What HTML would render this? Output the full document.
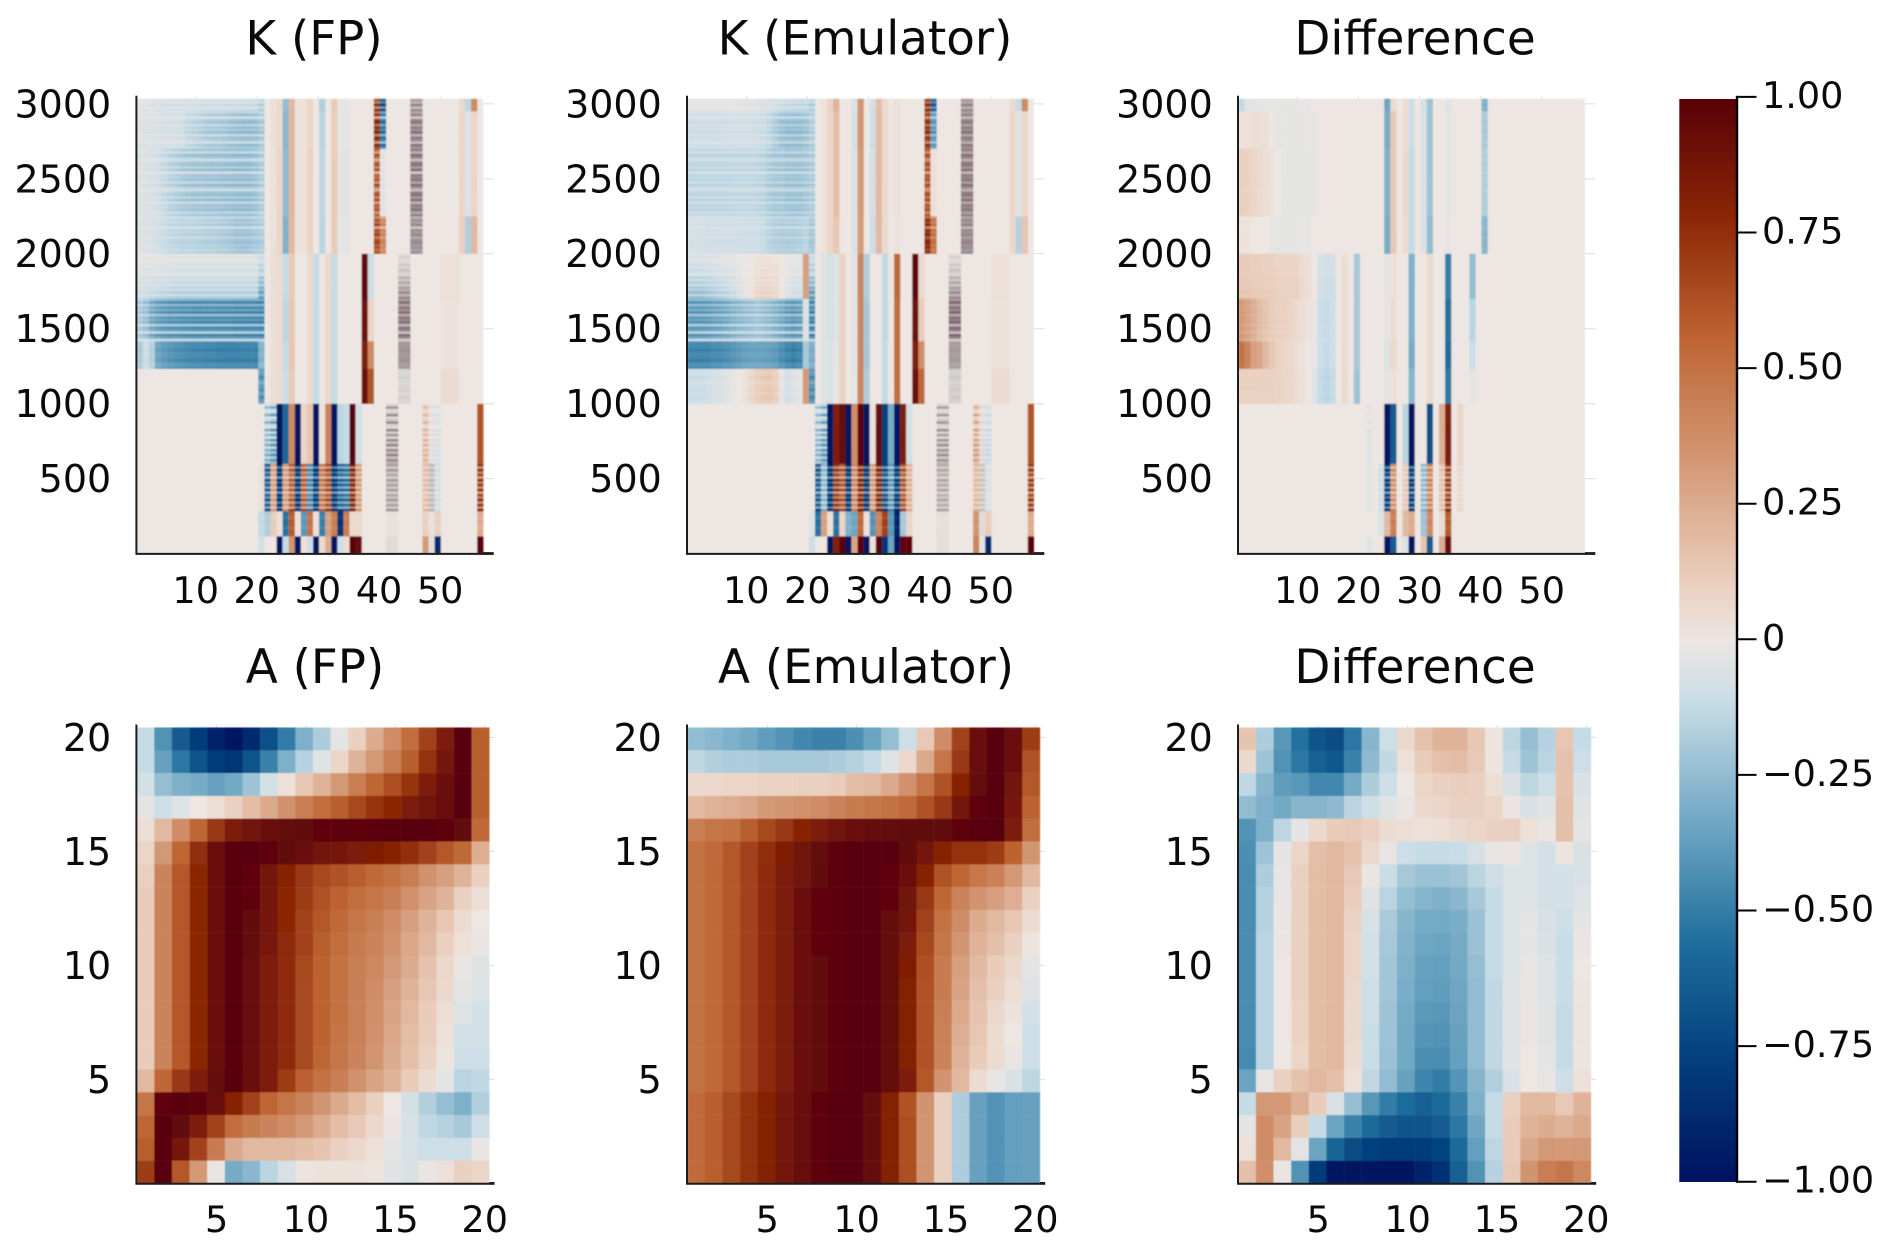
<!DOCTYPE html>
<html lang="en">
<head>
<meta charset="utf-8">
<title>K and A heatmaps</title>
<style>
html,body{margin:0;padding:0;background:#fff;}
svg{display:block;}
text{font-family:"DejaVu Sans","Liberation Sans",sans-serif;fill:#0a0a0a;}
.title{font-size:46.8px;text-anchor:middle;}
.tick{font-size:36.6px;}
.ytick{font-size:38px;}
</style>
</head>
<body>
<svg id="figure" xmlns="http://www.w3.org/2000/svg" width="1892" height="1252" viewBox="0 0 1892 1252">
  <defs>
    <filter id="soft"><feGaussianBlur stdDeviation="0.75"/></filter>
    <filter id="softer"><feGaussianBlur stdDeviation="0.45"/></filter>
    <linearGradient id="cbarGrad" x1="0" y1="0" x2="0" y2="1"></linearGradient>
  </defs>
  <rect x="0" y="0" width="1892" height="1252" fill="#ffffff"/>
  <text class="title" x="314" y="54.4">K (FP)</text>
  <text class="title" x="865" y="54.4">K (Emulator)</text>
  <text class="title" x="1415" y="54.4">Difference</text>
  <text class="title" x="315" y="683">A (FP)</text>
  <text class="title" x="866" y="683">A (Emulator)</text>
  <text class="title" x="1415" y="683">Difference</text>
  <g id="plots"></g>
  <rect x="1679.3" y="99" width="57" height="1083" fill="url(#cbarGrad)"/>
  <g id="cbar"></g>
</svg>
<script>
/* ---------- colour scale ---------- */
const scaleValues = [-1,-0.778,-0.556,-0.333,-0.111,0,0.111,0.333,0.556,0.778,1];
const scaleColors = ["#001261","#033E7D","#1E6F9D","#71A8C4","#C9DDE7","#EDE6E2","#EACEBD","#D39774","#BE6533","#8B2706","#590008"];

/* ---------- A panels: rows run y=20 (top) to y=1 (bottom), 20 columns ---------- */
const aFpValues = [
[-.12,-.42,-.65,-.8,-.92,-1,-.88,-.7,-.5,-.3,-.18,-.03,.1,.25,.38,.52,.68,.85,1,.58],
[-.12,-.36,-.52,-.68,-.78,-.82,-.68,-.48,-.3,-.16,-.04,.08,.22,.33,.45,.58,.74,.87,1,.58],
[-.08,-.24,-.3,-.32,-.36,-.33,-.22,-.08,.03,.14,.22,.33,.45,.55,.63,.73,.84,.92,1,.58],
[-.03,-.1,-.05,0,.04,.1,.18,.26,.36,.45,.52,.58,.66,.73,.78,.85,.9,.93,1,.58],
[.04,.2,.38,.55,.72,.85,.9,.93,.95,.96,.97,.98,.98,.99,1,1,1,.98,.96,.54],
[.08,.33,.55,.75,.92,1,1,.98,.96,.93,.9,.88,.85,.83,.8,.75,.68,.6,.54,.24],
[.1,.42,.6,.78,.92,1,.97,.88,.8,.72,.66,.62,.58,.54,.5,.45,.36,.3,.22,.1],
[.12,.42,.6,.78,.92,1,.97,.88,.78,.7,.62,.56,.52,.48,.44,.36,.28,.22,.1,.04],
[.12,.42,.6,.78,.92,1,.96,.87,.78,.68,.6,.54,.48,.44,.38,.3,.22,.14,.05,0],
[.12,.42,.6,.78,.92,1,.95,.86,.77,.68,.58,.52,.46,.42,.36,.27,.2,.1,.03,-.01],
[.12,.42,.6,.78,.92,1,.94,.85,.76,.66,.56,.5,.44,.4,.33,.25,.16,.07,-.01,-.04],
[.12,.42,.6,.78,.92,1,.94,.85,.76,.65,.56,.5,.44,.38,.3,.22,.14,.06,-.03,-.05],
[.12,.42,.6,.78,.92,1,.94,.85,.76,.65,.56,.5,.43,.37,.28,.2,.12,.04,-.05,-.08],
[.12,.42,.6,.78,.92,1,.94,.85,.76,.65,.56,.49,.43,.36,.27,.18,.11,.03,-.08,-.08],
[.12,.42,.6,.78,.92,1,.94,.85,.76,.65,.55,.48,.42,.34,.25,.17,.09,.01,-.1,-.1],
[.2,.55,.72,.85,.95,1,.92,.85,.7,.57,.5,.44,.36,.28,.22,.12,.05,-.03,-.15,-.13],
[.48,.97,1,.98,.92,.8,.68,.55,.48,.42,.34,.26,.18,.1,0,-.08,-.17,-.24,-.3,-.17],
[.55,1,.96,.85,.68,.52,.46,.42,.38,.33,.25,.18,.13,.07,-.01,-.07,-.13,-.16,-.2,-.1],
[.58,1,.87,.68,.46,.26,.2,.2,.2,.18,.15,.1,.07,.03,-.03,-.07,-.1,-.1,-.1,-.01],
[.7,1,.6,.33,-.01,-.32,-.27,-.15,-.07,.01,.02,.02,.02,.01,-.04,-.06,-.01,.03,.1,.08]
];
const aEmulatorValues = [
[-.25,-.27,-.3,-.33,-.38,-.42,-.46,-.48,-.48,-.43,-.35,-.24,-.1,.13,.38,.68,.92,1,.92,.7],
[-.14,-.17,-.18,-.18,-.2,-.2,-.2,-.2,-.18,-.16,-.12,-.04,.07,.26,.48,.72,.92,1,.92,.62],
[.06,.07,.08,.08,.09,.09,.1,.1,.12,.18,.2,.26,.36,.48,.62,.8,.95,1,.9,.6],
[.2,.22,.24,.27,.32,.34,.36,.38,.42,.46,.48,.5,.53,.62,.72,.88,.97,1,.87,.56],
[.45,.48,.5,.58,.66,.72,.8,.85,.9,.93,.95,.95,.96,.96,.96,.98,1,1,.85,.52],
[.5,.53,.6,.68,.75,.83,.9,.95,.98,1,1,1,.96,.88,.8,.74,.74,.7,.56,.34],
[.5,.54,.6,.68,.76,.84,.9,.96,.98,1,1,.97,.92,.8,.62,.55,.47,.43,.33,.2],
[.5,.54,.6,.68,.77,.85,.92,.97,.99,1,1,.97,.9,.72,.55,.42,.35,.3,.24,.1],
[.5,.54,.6,.68,.77,.85,.92,.97,.99,1,1,.95,.88,.68,.5,.38,.25,.2,.14,.05],
[.5,.54,.6,.68,.77,.85,.92,.97,.99,1,1,.95,.85,.66,.48,.34,.22,.17,.1,.01],
[.5,.54,.6,.68,.77,.85,.92,.96,.99,1,1,.95,.83,.63,.46,.3,.19,.12,.07,-.03],
[.5,.54,.6,.68,.77,.85,.92,.96,.99,1,1,.95,.82,.62,.46,.28,.17,.1,.04,-.05],
[.5,.54,.6,.68,.77,.85,.92,.96,.99,1,1,.95,.82,.62,.44,.26,.15,.07,.02,-.08],
[.5,.54,.6,.68,.77,.85,.92,.96,.99,1,1,.95,.82,.62,.43,.24,.14,.05,0,-.1],
[.5,.54,.6,.68,.77,.85,.92,.96,.99,1,1,.95,.82,.62,.42,.22,.12,.05,-.02,-.1],
[.5,.54,.6,.68,.77,.85,.92,.96,.99,1,1,.95,.85,.6,.35,.2,.05,-.02,-.06,-.14],
[.53,.58,.66,.74,.82,.88,.93,.98,1,1,.95,.82,.62,.35,.1,-.18,-.36,-.42,-.37,-.36],
[.53,.58,.66,.74,.82,.88,.94,.98,1,1,.95,.82,.63,.34,.1,-.18,-.36,-.42,-.37,-.36],
[.53,.58,.66,.74,.82,.88,.94,.98,1,1,.95,.82,.63,.34,.1,-.18,-.36,-.42,-.37,-.36],
[.53,.58,.66,.74,.82,.88,.94,.98,1,1,.95,.82,.63,.34,.1,-.18,-.36,-.42,-.37,-.36]
];
const aDifferenceValues = [
[.15,-.18,-.4,-.55,-.68,-.72,-.52,-.28,-.1,.07,.16,.22,.22,.14,.01,-.14,-.24,-.16,.14,-.12],
[.06,-.22,-.42,-.52,-.62,-.66,-.48,-.26,-.13,.03,.12,.17,.18,.13,.01,-.12,-.22,-.15,.16,-.1],
[-.13,-.28,-.38,-.4,-.46,-.46,-.32,-.18,-.1,0,.08,.1,.11,.1,.04,-.06,-.14,-.1,.16,-.06],
[-.25,-.3,-.33,-.28,-.28,-.26,-.15,-.09,-.04,-.01,.06,.08,.1,.1,.08,-.01,-.06,-.04,.17,-.04],
[-.42,-.3,-.14,-.03,.06,.12,.13,.1,.05,.04,.03,.04,.06,.08,.1,.1,.03,-.01,.17,-.03],
[-.43,-.22,-.03,.08,.17,.2,.16,.07,-.02,-.1,-.12,-.12,-.11,-.07,-.02,-.01,-.05,-.08,.01,-.06],
[-.44,-.18,-.02,.1,.18,.2,.13,-.01,-.11,-.2,-.23,-.23,-.21,-.15,-.1,-.05,-.05,-.08,-.08,-.06],
[-.44,-.16,-.02,.1,.18,.2,.11,-.04,-.15,-.24,-.28,-.3,-.27,-.2,-.12,-.05,-.05,-.08,-.08,-.05],
[-.44,-.16,-.01,.1,.18,.2,.09,-.07,-.19,-.28,-.32,-.33,-.31,-.23,-.12,-.05,-.03,-.07,-.1,-.03],
[-.44,-.15,-.01,.1,.18,.2,.08,-.08,-.2,-.29,-.34,-.35,-.32,-.23,-.12,-.05,-.03,-.06,-.11,-.01],
[-.44,-.15,0,.1,.18,.2,.08,-.08,-.21,-.3,-.36,-.37,-.33,-.24,-.12,-.05,-.02,-.05,-.11,0],
[-.44,-.15,0,.1,.18,.2,.07,-.1,-.21,-.31,-.37,-.38,-.34,-.25,-.13,-.04,-.02,-.05,-.11,.01],
[-.44,-.15,0,.09,.18,.2,.06,-.1,-.22,-.32,-.39,-.4,-.35,-.25,-.13,-.04,-.01,-.04,-.12,.01],
[-.44,-.15,0,.09,.18,.2,.06,-.11,-.22,-.33,-.41,-.42,-.36,-.25,-.13,-.04,-.01,-.04,-.12,.01],
[-.45,-.15,0,.08,.18,.2,.05,-.11,-.23,-.33,-.43,-.44,-.37,-.25,-.13,-.04,0,-.03,-.12,.01],
[-.35,-.02,.1,.16,.2,.17,.03,-.13,-.25,-.36,-.47,-.5,-.41,-.28,-.17,-.06,0,-.02,-.1,.03],
[-.12,.33,.33,.24,.12,-.06,-.24,-.4,-.5,-.57,-.62,-.58,-.48,-.3,-.12,.1,.2,.2,.13,.22],
[-.03,.38,.28,.11,-.12,-.35,-.48,-.58,-.65,-.68,-.68,-.64,-.52,-.34,-.12,.12,.22,.25,.22,.26],
[.03,.38,.2,-.03,-.35,-.6,-.72,-.77,-.8,-.8,-.8,-.75,-.58,-.37,-.14,.12,.27,.33,.32,.33],
[.17,.37,-.01,-.42,-.8,-1,-1,-1,-1,-1,-.92,-.85,-.62,-.42,-.16,.13,.35,.45,.48,.4]
];

/* ---------- K panels: each row is a y-range group, 57 columns, values in hundredths ---------- */
const kGroupRowCounts = [5,15,27,15, 18,17,11,14, 24,19,10,7];
const stripesTop = [.7,.5,1,.4,.9, .6,1,.3,.9,1.1,.6,1,.8,1.2,.5,1,.9,.4,1.1,.8,
 1,.5,1.2,.9,.4,1,1.1,.7,1.2,.3,1,.9,1.1,.6,1.2,.8,.4,1,1.1,.7,1.2,.5,1,.9,1.1,.6,1,
 .6,1,.8,1.1,.4,1,.9,1.1,.7,1,1.1,.9,1,.8,1];
const stripesMiddle = [.2,.4,.2,.3,.5,.3,.6,.4,.3,.8,.5,.9,.5,1,.8,1.3,.7,1.3,
 .8,1.3,.7,1.2,.9,1.3,.6,1.2,1,1.3,.5,1.2,1.1,.4,1.3,1,.3,
 1,1,1,1.1,1,1,1,1.1,1,.9,1,
 1,.9,1,1.2,1,.8,1,1,1.2,.9,1,1.2,1,.9];
const stripesLower = [.3,.9,.2,.3,1,.2,.4,1,.3,.2,1.1,.3,.9,.2,1,.4,1.1,.3,1,.5,1.1,.4,1,.6,
 1.1,.5,1.2,.6,1,.4,1.2,.6,1.1,.5,1.2,.4,1,.6,1.2,.5,1.1,.5,1.3,
 1,1,.9,1,1,1,.9,1,1,1,
 1,1,1,1,1,1,1];

const kFpValues = [
[-5,-6,-7,-8,-9,-10,-10,-10,-10,-11,  -11,-12,-12,-12,-12,-13,-13,-13,-14,-14,  -20,0,3,6,-25,20,2,2,8,0,  -18,0,12,-2,-2,0,0,0,0,92,  -90,0,0,0,0,50,50,0,0,0,  0,0,0,6,-14,40,0],
[-5,-6,-6,-7,-8,-8,-9,-10,-13,-15,  -17,-19,-20,-20,-21,-23,-24,-25,-25,-24,  -20,0,3,6,-28,22,2,2,8,0,  -15,0,12,-3,-3,0,0,0,0,82,  -55,0,0,0,0,50,50,0,0,0,  0,0,0,8,-5,8,0],
[-5,-6,-7,-9,-12,-15,-17,-19,-20,-21,  -21,-22,-22,-22,-23,-23,-24,-24,-24,-22,  -18,0,3,8,-26,22,2,2,9,0,  -14,0,12,-3,-4,0,0,0,0,58,  -4,0,0,0,0,50,50,0,0,0,  0,0,0,8,-5,8,0],
[-5,-6,-7,-9,-11,-13,-14,-15,-15,-15,  -16,-17,-17,-18,-19,-20,-22,-22,-22,-20,  -18,0,3,8,-30,20,2,2,9,0,  -15,0,12,-3,-3,0,0,0,0,65,  42,0,0,0,0,42,42,0,0,0,  0,0,0,10,-18,20,0],
[-8,-9,-10,-11,-12,-13,-14,-14,-14,-14,  -14,-14,-14,-14,-14,-14,-14,-14,-14,-14,  -30,0,4,5,-12,13,1,1,6,-12,  0,7,-12,0,0,0,0,97,-10,0,  0,0,0,35,35,0,0,0,0,0,  3,3,3,0,0,0,0],
[-16,-20,-28,-32,-34,-36,-36,-37,-37,-38,  -38,-38,-38,-38,-38,-38,-39,-39,-39,-39,  -40,0,4,5,-14,14,1,1,6,-12,  0,7,-12,0,0,0,0,92,8,0,  0,0,0,45,45,0,0,0,0,0,  2,2,2,0,0,0,0],
[-18,-10,-16,-34,-38,-40,-42,-43,-44,-45,  -45,-46,-46,-47,-47,-47,-47,-47,-47,-47,  -28,0,4,5,-12,15,1,1,6,-12,  0,7,-12,0,0,0,0,85,40,0,  0,0,0,38,38,0,0,0,0,0,  2,2,2,0,0,0,0],
[0,0,0,0,0,0,0,0,0,0,  0,0,0,0,0,0,0,0,0,0,  -38,0,4,5,-10,13,1,1,6,-12,  0,7,-12,0,0,0,0,93,62,0,  0,0,0,12,12,0,0,0,0,0,  5,5,5,0,0,0,0],
[0,0,0,0,0,0,0,0,0,0,  0,0,0,0,0,0,0,0,0,0,  0,-30,-40,-100,-60,40,-100,8,15,-100,  2,42,-100,-15,-12,100,-8,0,0,0,  0,45,45,0,0,0,0,22,6,-8,  0,0,0,0,0,0,62],
[0,0,0,0,0,0,0,0,0,0,  0,0,0,0,0,0,0,0,0,0,  3,-65,28,-95,30,55,-90,55,-45,-90,  45,62,-90,-60,-55,85,30,0,0,0,  0,32,32,0,0,0,0,16,22,-8,  0,0,0,0,0,0,70],
[0,0,0,0,0,0,0,0,0,0,  0,0,0,0,0,0,0,0,0,0,  -12,-18,12,3,-55,60,3,-40,50,3,  -50,30,45,-85,45,6,6,0,0,0,  0,4,4,0,0,0,0,10,3,10,  0,0,0,0,0,0,25],
[0,0,0,0,0,0,0,0,0,0,  0,0,0,0,0,0,0,0,0,0,  -8,0,0,-100,-12,35,-100,2,-10,-100,  5,25,-100,-10,5,100,95,0,0,0,  0,8,8,0,0,0,0,32,5,-88,  0,0,0,0,0,0,100]
];
const kEmulatorValues = [
[-3,-3,-3,-3,-3,-3,-3,-3,-4,-5,  -5,-6,-7,-8,-10,-12,-14,-15,-15,-15,  -20,0,2,10,22,0,0,-6,35,0,  -8,18,6,0,3,0,0,0,0,90,  -75,0,0,0,0,50,50,0,0,0,  0,0,0,6,-12,40,0],
[-10,-10,-10,-10,-10,-10,-9,-9,-9,-9,  -9,-10,-11,-14,-19,-23,-25,-25,-25,-23,  -18,0,2,8,18,0,0,-8,35,0,  -10,20,6,0,3,0,0,0,0,75,  -40,0,0,0,0,50,50,0,0,0,  0,0,0,8,-4,8,0],
[-14,-14,-14,-14,-14,-14,-14,-13,-13,-13,  -13,-14,-15,-18,-20,-20,-22,-22,-22,-20,  -18,0,2,8,18,0,0,-6,33,0,  -8,20,6,0,3,0,0,0,0,60,  3,0,0,0,0,50,50,0,0,0,  0,0,0,8,-4,8,0],
[-8,-8,-8,-9,-9,-9,-9,-9,-9,-10,  -10,-10,-12,-15,-17,-18,-18,-18,-17,-15,  -20,0,2,8,14,0,0,-6,32,0,  -10,20,6,0,2,0,0,0,0,78,  50,0,0,0,0,45,45,0,0,0,  0,0,0,8,-16,15,0],
[-20,-20,-20,-18,-16,-14,-12,-10,-6,-3,  2,6,8,8,6,0,-5,-8,-8,30,  -32,0,-5,-7,-4,10,0,-4,42,-18,  0,0,-13,0,55,0,0,98,6,0,  0,0,0,35,35,0,0,0,0,0,  3,3,3,0,0,0,0],
[-34,-34,-34,-33,-31,-30,-28,-25,-23,-21,  -20,-18,-20,-22,-25,-28,-32,-34,-32,-5,  -40,0,-5,-7,-4,10,0,-4,42,-20,  0,0,-13,0,52,0,0,92,12,0,  0,0,0,48,48,0,0,0,0,0,  2,2,2,0,0,0,0],
[-46,-46,-46,-46,-44,-44,-42,-40,-38,-36,  -35,-35,-35,-36,-38,-42,-46,-48,-46,-20,  -30,0,-5,-6,-3,10,0,-4,42,-20,  0,0,-12,0,52,0,0,85,38,0,  0,0,0,35,35,0,0,0,0,0,  2,2,2,0,0,0,0],
[-10,-10,-10,-8,-7,-6,-4,-2,0,2,  6,10,12,13,10,-2,-8,-5,-3,33,  -40,0,-5,-6,-2,10,0,-3,42,-18,  0,0,-12,0,52,0,0,92,55,0,  0,0,0,14,14,0,0,0,0,0,  5,5,5,0,0,0,0],
[0,0,0,0,0,0,0,0,0,0,  0,0,0,0,0,0,0,0,0,0,  0,-28,-40,-100,85,95,-100,38,100,-100,  2,95,-78,-32,-100,85,-8,0,0,0,  0,40,40,0,0,0,0,30,10,-12,  0,0,0,0,0,0,62],
[0,0,0,0,0,0,0,0,0,0,  0,0,0,0,0,0,0,0,0,0,  0,-65,-25,-95,72,58,-92,38,85,-90,  30,85,-72,-38,-90,60,22,0,0,0,  0,28,28,0,0,0,0,18,18,-6,  0,0,0,0,0,0,68],
[0,0,0,0,0,0,0,0,0,0,  0,0,0,0,0,0,0,0,0,0,  -5,-55,30,3,-55,8,-30,-35,55,3,  -42,42,70,-40,-92,-20,8,0,0,0,  0,5,5,0,0,0,0,35,-8,12,  0,0,0,0,0,0,25],
[0,0,0,0,0,0,0,0,0,0,  0,0,0,0,0,0,0,0,0,0,  -10,0,0,-100,82,100,-100,28,100,-100,  2,100,-82,-35,-100,97,97,0,0,0,  0,5,5,0,0,0,0,42,3,-88,  0,0,0,0,0,0,100]
];
const kDifferenceValues = [
[-14,-4,-3,-3,-3,-3,-3,-3,-3,-3,  -2,-2,-1,-1,0,0,0,0,0,0,  0,0,0,0,-35,6,0,4,-10,0,  -8,-22,0,0,-4,0,0,0,0,0,  -32,0,0,0,0,0,0,0,0,0,  0,0,0,0,0,0,0],
[3,3,4,4,3,0,-2,-3,-3,-3,  -3,-2,-2,-1,-1,0,0,0,0,0,  0,0,0,0,-32,14,0,5,-10,0,  -6,-22,0,0,-3,0,0,0,0,0,  -20,0,0,0,0,0,0,0,0,0,  0,0,0,0,0,0,0],
[11,10,8,6,4,2,0,-2,-3,-3,  -3,-3,-2,-1,-1,0,0,1,1,0,  0,0,0,0,-30,14,0,6,-12,0,  -6,-22,0,0,-3,0,0,0,0,0,  -18,0,0,0,0,0,0,0,0,0,  0,0,0,0,0,0,0],
[2,2,1,0,-1,-2,-3,-3,-3,-3,  -2,-2,-1,0,0,0,0,0,0,0,  0,0,0,0,-32,14,0,5,-12,0,  -6,-25,0,0,-2,0,0,0,0,0,  -28,0,0,0,0,0,0,0,0,0,  0,0,0,0,0,0,0],
[14,14,13,13,12,12,10,10,10,10,  6,4,0,-8,-10,-10,0,5,0,-20,  0,0,0,0,-3,3,0,0,-30,0,  0,6,0,0,-50,0,0,0,-25,0,  0,0,0,0,0,0,0,0,0,0,  0,0,0,0,0,0,0],
[32,28,24,18,15,12,10,10,8,6,  4,2,-2,-10,-12,-10,0,5,0,-20,  0,0,0,0,-3,5,0,0,-30,0,  0,6,0,0,-55,0,0,0,-15,0,  0,0,0,0,0,0,0,0,0,0,  0,0,0,0,0,0,0],
[50,42,30,28,20,14,10,8,6,4,  2,0,-2,-10,-12,-10,0,5,0,-20,  0,0,0,0,-5,7,0,0,-32,0,  0,6,0,0,-58,0,0,0,-10,0,  0,0,0,0,0,0,0,0,0,0,  0,0,0,0,0,0,0],
[10,10,10,10,10,10,9,8,7,5,  3,0,-4,-12,-14,-12,0,6,0,-22,  0,0,0,0,-3,3,0,0,-28,0,  0,6,0,0,-52,0,0,0,-3,0,  0,0,0,0,0,0,0,0,0,0,  0,0,0,0,0,0,0],
[0,0,0,0,0,0,0,0,0,0,  0,0,0,0,0,0,0,0,0,0,  0,-5,0,0,-100,-65,0,-15,-100,0,  0,-72,0,25,85,0,8,0,0,0,  0,0,0,0,0,0,0,0,0,0,  0,0,0,0,0,0,0],
[0,0,0,0,0,0,0,0,0,0,  0,0,0,0,0,0,0,0,0,0,  0,-3,0,-8,-85,35,0,12,-85,0,  -25,40,0,15,70,0,6,0,0,0,  0,0,0,0,0,0,0,0,0,0,  0,0,0,0,0,0,0],
[0,0,0,0,0,0,0,0,0,0,  0,0,0,0,0,0,0,0,0,0,  0,0,0,-5,20,45,0,20,25,0,  -22,40,0,5,60,0,0,0,0,0,  0,0,0,0,0,0,0,0,0,0,  0,0,0,0,0,0,0],
[0,0,0,0,0,0,0,0,0,0,  0,0,0,0,0,0,0,0,0,0,  0,-4,0,0,-100,-65,0,-5,-100,0,  15,-65,0,25,92,0,0,0,0,0,  0,0,0,0,0,0,0,0,0,0,  0,0,0,0,0,0,0]
];
/* columns that do not follow the row streaks, and columns that flip sign within a row */
const solidTop = [22,23,24,25,26,27,28,29,30,31,32,33,34,53,54,55];
const solidMiddle = [22,23,24,25,26,27,28,29,30,31,32,33,34,35,36,37,38,50,51,52];
const solidLower = [23,24,25,26,27,28,29,30,31,32,33,34,35,36,56];
const solidExtraFp = [];
const solidExtraEmulator = [19];
const solidExtraDifference = [19];
const alternatingTop = [45,46];
const alternatingMiddle = [43,44];
const alternatingLower = [41,42,48];
const stripeDepthFp = [1,1,1];
const stripeDepthEmulator = [.8,1,1];
const stripeDepthDifference = [.2,.2,1];

/* ---------- tick labels ---------- */
const kXTicks = [10,20,30,40,50];
const kYTicks = [500,1000,1500,2000,2500,3000];
const aXTicks = [5,10,15,20];
const aYTicks = [5,10,15,20];
const colorbarTicks = [1,0.75,0.5,0.25,0,-0.25,-0.5,-0.75,-1];
const colorbarLabels = ["1.00","0.75","0.50","0.25","0","\u22120.25","\u22120.50","\u22120.75","\u22121.00"];

/* ---------- helpers ---------- */
const NS = "http://www.w3.org/2000/svg";
function mk(tag, attrs, parent){
  const e = document.createElementNS(NS, tag);
  for (const k in attrs) e.setAttribute(k, attrs[k]);
  parent.appendChild(e);
  return e;
}
const scaleRgb = scaleColors.map(h => [parseInt(h.slice(1,3),16),parseInt(h.slice(3,5),16),parseInt(h.slice(5,7),16)]);
function colorOf(v){
  const x = Math.max(-1, Math.min(1, v));
  let i = 0;
  while (i < scaleValues.length-2 && x > scaleValues[i+1]) i++;
  const t = (x-scaleValues[i])/(scaleValues[i+1]-scaleValues[i]);
  const a = scaleRgb[i], b = scaleRgb[i+1];
  return "rgb("+Math.round(a[0]+(b[0]-a[0])*t)+","+Math.round(a[1]+(b[1]-a[1])*t)+","+Math.round(a[2]+(b[2]-a[2])*t)+")";
}
const plots = document.getElementById("plots");

/* axis functions */
const kTopValue = 3034;
const kColWidth = 6.08;
const kRowUnits = 16.68;
const kX = (left, v) => left - 2.1 + v*6.11;
const kY = v => 553.6 - v*0.1499;
const aColWidth = 17.63;
const aRowHeight = 22.8;
const aX = (left, v) => left - 9.4 + v*17.87;
const aY = v => 1193.4 - v*22.8;

function drawFrame(g, left, top, bottom, axisEnd, xTicks, yTicks, xFn, yFn){
  const grid = mk("g",{},g);
  
  
  xTicks.forEach(t=>{
    const l = mk("line",{x1:xFn(left,t),x2:xFn(left,t),y1:top-3,y2:bottom,stroke:"#e2e2e2","stroke-width":1},grid);
    
    
  });
  yTicks.forEach(t=>{
    const l = mk("line",{x1:left,x2:axisEnd,y1:yFn(t),y2:yFn(t),stroke:"#dedede","stroke-width":1},grid);
    
    
  });
}
function drawAxes(g, left, top, bottom, heatRight, axisEnd, xTicks, yTicks, xFn, yFn, xLabelBase){
  const leftSpine = mk("line",{x1:left-.3,x2:left-.3,y1:top-3,y2:bottom+1,stroke:"#1c1c1c","stroke-width":2},g);
  
  
  const bottomSpine = mk("line",{x1:left-1,x2:axisEnd,y1:bottom+.3,y2:bottom+.3,stroke:"#1c1c1c","stroke-width":2},g);
  
  
  const endCap = mk("line",{x1:heatRight,x2:axisEnd,y1:bottom-.2,y2:bottom-.2,stroke:"#1c1c1c","stroke-width":2.6},g);
  
  
  xTicks.forEach(t=>{
    const s = mk("text",{class:"tick",x:xFn(left,t),y:xLabelBase,"text-anchor":"middle"},g);
    
    
    s.textContent = t;
  });
  yTicks.forEach(t=>{
    const s = mk("text",{class:"ytick",x:left-25.5,y:yFn(t)+13.4,"text-anchor":"end"},g);
    
    
    s.textContent = t;
  });
}

function drawKPanel(name, left, values, depth, useAlternating, solidExtra){
  const g = mk("g",{},plots);
  
  
  const top = kY(kTopValue), bottom = kY(0);
  const right = left + 57*kColWidth, axisEnd = right + 10.4;
  drawFrame(g,left,top,bottom,axisEnd,kXTicks,kYTicks,kX,kY);
  const cells = mk("g",{filter:"url(#soft)"},g);
  
  
  const bg = mk("rect",{x:left,y:top,width:right-left,height:bottom-top,fill:colorOf(0)},cells);
  
  
  const stripes = stripesTop.concat(stripesMiddle, stripesLower);
  const rowH = kRowUnits*0.1499;
  let rowIndex = 0, rowValue = kTopValue;
  kGroupRowCounts.forEach((count, group)=>{
    const band = group < 4 ? 0 : (group < 8 ? 1 : 2);
    const solid = (band === 0 ? solidTop : band === 1 ? solidMiddle : (group === 8 ? solidLower : [])).concat(band === 1 ? solidExtra : []);
    const alternating = !useAlternating ? [] : band === 0 ? alternatingTop : band === 1 ? alternatingMiddle : alternatingLower;
    for (let n = 0; n < count; n++){
      const f = stripes[rowIndex];
      const y = kY(rowValue);
      values[group].forEach((raw, c)=>{
        if (raw === 0) return;
        let v = raw/100;
        if (solid.indexOf(c) < 0) v *= 1 - depth[band]*(1-f);
        if (Math.abs(v) < 0.012) return;
        if (alternating.indexOf(c) >= 0){
          const up = mk("rect",{x:left+c*kColWidth,y:y,width:kColWidth+.15,height:rowH/2+.05,fill:colorOf(v)},cells);
          
          
          const down = mk("rect",{x:left+c*kColWidth,y:y+rowH/2,width:kColWidth+.15,height:rowH/2+.05,fill:colorOf(-v)},cells);
          
          
          return;
        }
        const r = mk("rect",{x:left+c*kColWidth,y:y,width:kColWidth+.15,height:rowH+.1,fill:colorOf(v)},cells);
        
        
      });
      rowIndex++;
      rowValue -= kRowUnits;
    }
  });
  drawAxes(g,left,top,bottom,right,axisEnd,kXTicks,kYTicks,kX,kY,603);
}

function drawAPanel(name, left, values){
  const g = mk("g",{},plots);
  
  
  const top = 727.5, bottom = top + 20*aRowHeight;
  const right = left + 20*aColWidth, axisEnd = right + 5.2;
  drawFrame(g,left,top,bottom,axisEnd,aXTicks,aYTicks,aX,aY);
  const cells = mk("g",{filter:"url(#softer)"},g);
  
  
  values.forEach((row, i)=>{
    row.forEach((v, c)=>{
      const r = mk("rect",{x:left+c*aColWidth,y:top+i*aRowHeight,width:aColWidth+.2,height:aRowHeight+.2,fill:colorOf(v)},cells);
      
      
    });
  });
  drawAxes(g,left,top,bottom,right,axisEnd,aXTicks,aYTicks,aX,aY,1232);
}

const col1Left = 136.7, col2Left = 687.3, col3Left = 1238.3;
drawKPanel("k-fp-panel", col1Left, kFpValues, stripeDepthFp, true, solidExtraFp);
drawKPanel("k-emulator-panel", col2Left, kEmulatorValues, stripeDepthEmulator, true, solidExtraEmulator);
drawKPanel("k-difference-panel", col3Left, kDifferenceValues, stripeDepthDifference, false, solidExtraDifference);
drawAPanel("a-fp-panel", col1Left, aFpValues);
drawAPanel("a-emulator-panel", col2Left, aEmulatorValues);
drawAPanel("a-difference-panel", col3Left, aDifferenceValues);

/* ---------- colorbar ---------- */
const grad = document.getElementById("cbarGrad");
scaleValues.slice().reverse().forEach((v, i)=>{
  const s = mk("stop",{offset:((1-v)/2*100)+"%","stop-color":scaleColors[scaleColors.length-1-i]},grad);
  
  
});
const cbarG = document.getElementById("cbar");
const cbarY = v => 639.3 - v*542.4;
const cbarLine = mk("line",{x1:1737,x2:1737,y1:cbarY(1)-1,y2:cbarY(-1)+1,stroke:"#000","stroke-width":2.4},cbarG);


colorbarTicks.forEach((t, i)=>{
  const l = mk("line",{x1:1736,x2:1756.5,y1:cbarY(t),y2:cbarY(t),stroke:"#000","stroke-width":2},cbarG);
  
  
  const s = mk("text",{class:"tick",x:1762,y:cbarY(t)+11},cbarG);
  
  
  s.textContent = colorbarLabels[i];
});
</script>
</body>
</html>
